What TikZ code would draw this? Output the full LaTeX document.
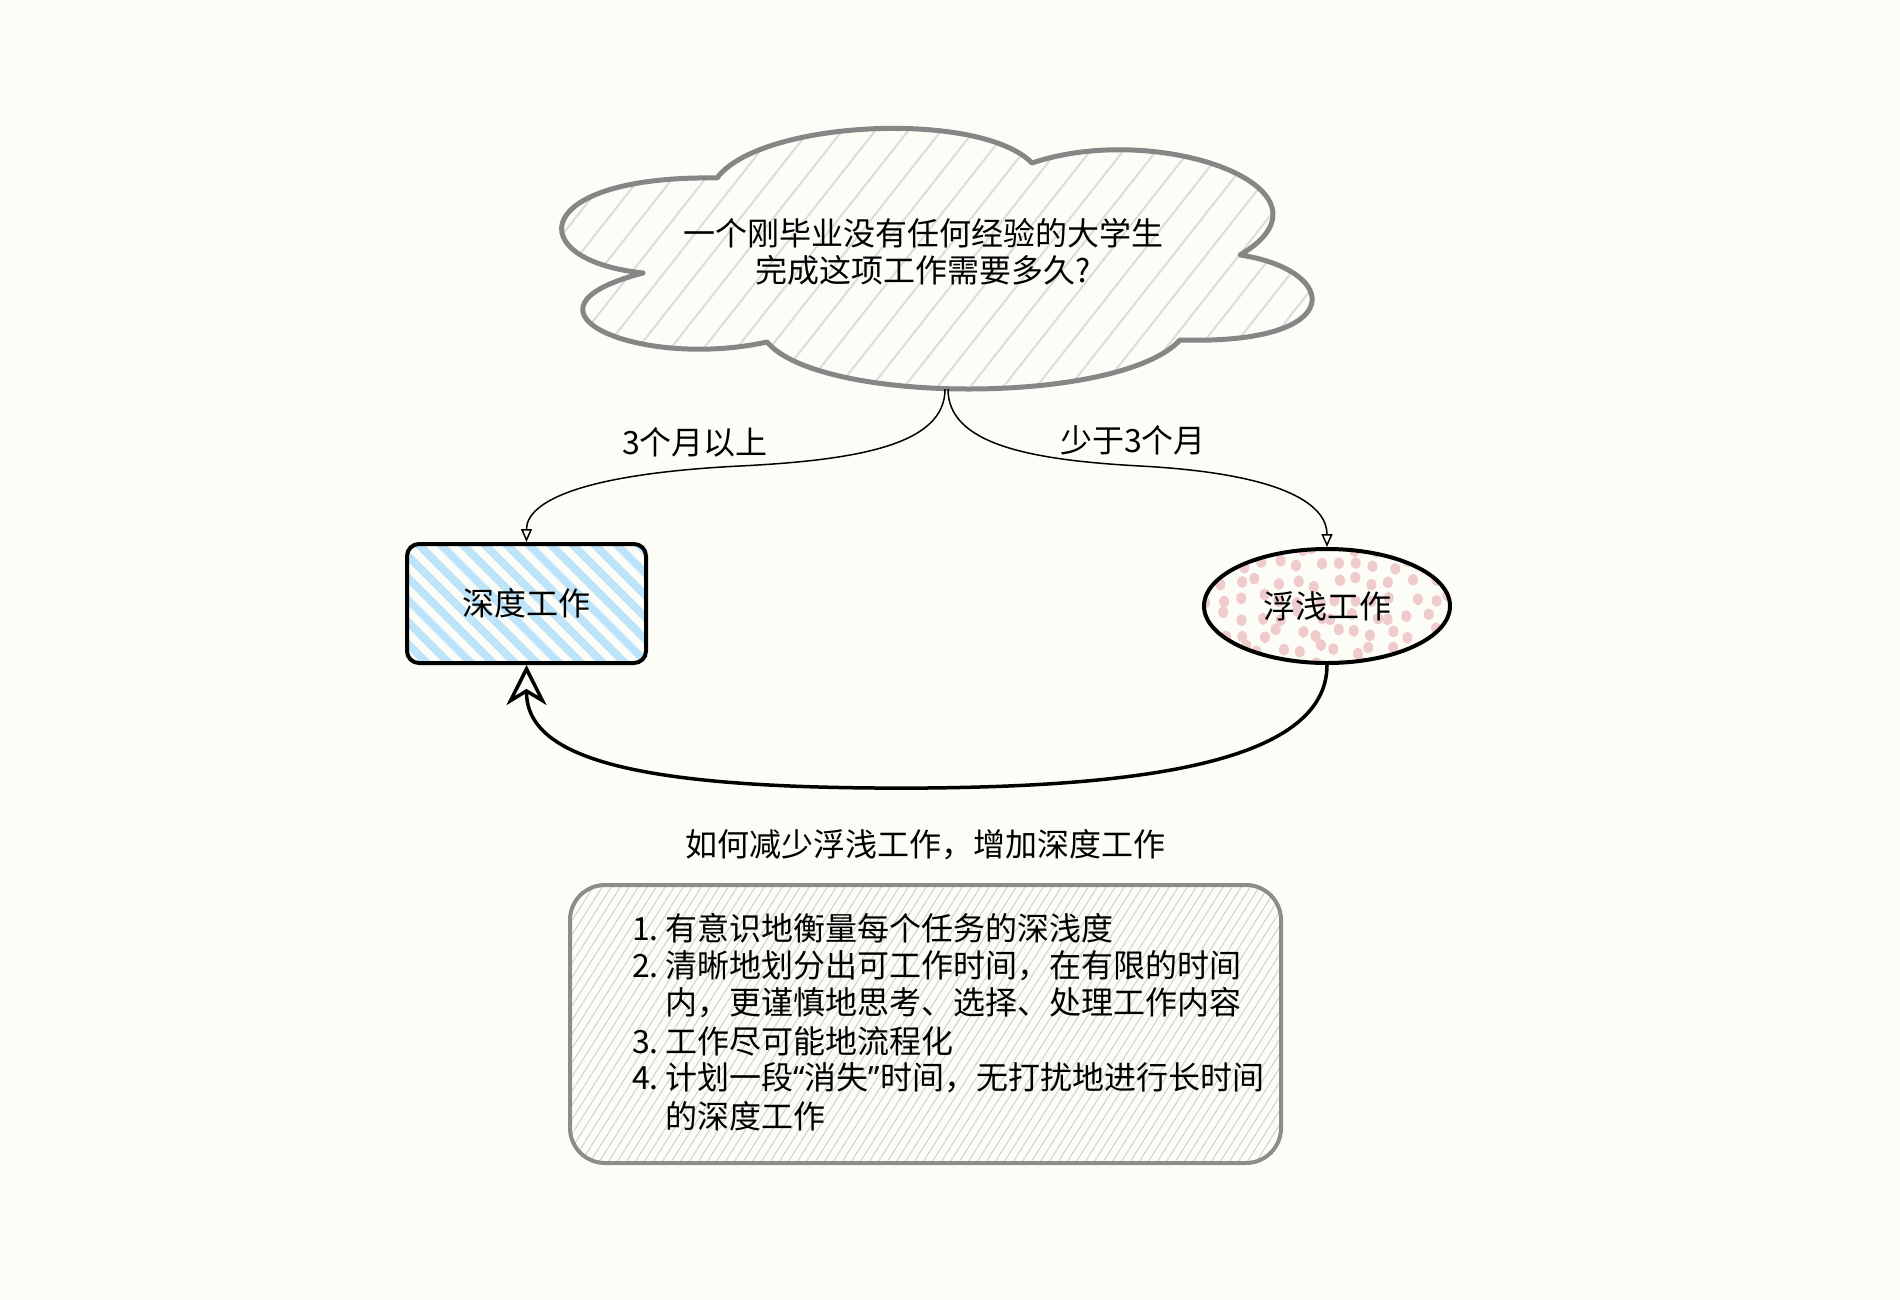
\documentclass[tikz,border=0pt]{standalone}
\usepackage{fontspec}
\setmainfont{Noto Sans CJK SC}
\newfontfamily\latinfont{Noto Sans}
\usetikzlibrary{arrows.meta}
\usetikzlibrary{shapes}
\definecolor{paper}{RGB}{253,253,248}
\definecolor{cloudline}{RGB}{134,134,134}
\definecolor{cloudhatch}{RGB}{220,220,220}
\definecolor{deepblue}{RGB}{190,228,250}
\definecolor{shallowpink}{RGB}{240,203,203}
\definecolor{tipsline}{RGB}{140,140,140}
\definecolor{tipshatch}{RGB}{208,208,208}
\newcommand{\cloudoutline}{(717,178) .. controls (760,120) and (980,110) .. (1032,163)
  .. controls (1160,120) and (1350,190) .. (1240,255)
  .. controls (1340,270) and (1350,345) .. (1180,340)
  .. controls (1120,405) and (820,405) .. (767,342)
  .. controls (640,370) and (500,310) .. (643,273)
  .. controls (520,260) and (530,175) .. (717,178) -- cycle}

\begin{document}
\begin{tikzpicture}[x = 1pt, y = -1pt]
\tikzstyle{TextStyle}=[font = \fontsize{32}{37.6}\selectfont, inner sep = 0pt]
\tikzstyle{ListStyle}=[TextStyle, anchor = west]
\tikzstyle{DeepStyle}=[shape = rectangle, draw, line width = 4pt,
                       rounded corners = 12pt,
                       minimum width = 239pt, minimum height = 119pt, TextStyle]
\tikzstyle{ShallowStyle}=[shape = ellipse, draw, line width = 4pt,
                          minimum width = 246pt, minimum height = 114pt, TextStyle]
\tikzstyle{TipsStyle}=[shape = rectangle, draw = tipsline, line width = 4pt,
                       rounded corners = 35pt, inner sep = 0pt,
                       minimum width = 711pt, minimum height = 278pt]
\tikzstyle{ThinArrow}=[line width = 1.5pt, -{Triangle[open, length = 13pt, width = 11pt]}]
\tikzstyle{ThickArrow}=[line width = 3.5pt, -{Stealth[open, length = 40pt, width = 40pt, inset = 12pt]}]
\useasboundingbox (0,0) rectangle (1900,1300);
\fill[paper] (0,0) rectangle (1900,1300);
\begin{scope}
\clip \cloudoutline;
\foreach \h in {300,333,...,1350}
  \draw[cloudhatch, line width = 2pt] (\h,400) -- ++(260,-330);
\end{scope}
\draw[cloudline, line width = 5pt, line join = round] \cloudoutline;
\begin{scope}
\clip[rounded corners = 12pt] (407,544) rectangle (646,663);
\foreach \h in {250,272,...,650}
  \draw[deepblue, line width = 8pt, line cap = round] (\h,530) -- ++(150,150);
\end{scope}
\begin{scope}
\clip (1327,606) ellipse [x radius = 123, y radius = 57];
\pgfmathsetseed{11}
\foreach \i in {0,...,13}
  \foreach \j in {0,...,7}
    \fill[shallowpink] (1203+\i*19+6*rand, 548+\j*17+5*rand) ellipse [x radius = 5, y radius = 6];
\end{scope}
\begin{scope}
\clip[rounded corners = 35pt] (570,885) rectangle (1281,1163);
\foreach \h in {360,369,...,1290}
  \draw[tipshatch, line width = 1pt] (\h,1170) -- ++(190,-300);
\end{scope}
\node[minimum width = 760pt, minimum height = 258pt, inner sep = 0pt] (cloud) at (945,260) {};
\node[TextStyle, align = center] (q) at (923,252) {一个刚毕业没有任何经验的大学生\\完成这项工作需要多久?};
\node[DeepStyle] (deep) at (526.5,603.5) {深度工作};
\node[ShallowStyle] (shallow) at (1327,606) {浮浅工作};
\node[TextStyle] (long) at (695,442) {3个月以上};
\node[TextStyle] (short) at (1133,440) {少于3个月};
\node[TextStyle] (how) at (925,845) {如何减少浮浅工作，增加深度工作};
\node[TipsStyle] (tips) at (925.5,1024) {};
\node[ListStyle] (t1) at (632,928) {\makebox[33pt][l]{1.}有意识地衡量每个任务的深浅度};
\node[ListStyle] (t2) at (632,966) {\makebox[33pt][l]{2.}清晰地划分出可工作时间，在有限的时间};
\node[ListStyle] (t2b) at (665,1003) {内，更谨慎地思考、选择、处理工作内容};
\node[ListStyle] (t3) at (632,1041) {\makebox[33pt][l]{3.}工作尽可能地流程化};
\node[ListStyle] (t4) at (632,1078) {\makebox[33pt][l]{4.}计划一段{\latinfont “}消失{\latinfont ”}时间，无打扰地进行长时间};
\node[ListStyle] (t4b) at (665,1116) {的深度工作};
\draw[ThinArrow] (cloud.south) .. controls +(0,55) and (860,460) .. (740,466)
  .. controls (580,474) and +(0,-40) .. (deep.north);
\draw[ThinArrow] ([xshift = 3pt]cloud.south) .. controls +(0,55) and (1030,460) .. (1140,466)
  .. controls (1290,474) and +(0,-40) .. (shallow.north);
\draw[ThickArrow] (shallow.south) .. controls +(0,100) and (1130,786) .. (927,788)
  .. controls (640,790) and +(0,95) .. (deep.south);
\end{tikzpicture}
\end{document}
